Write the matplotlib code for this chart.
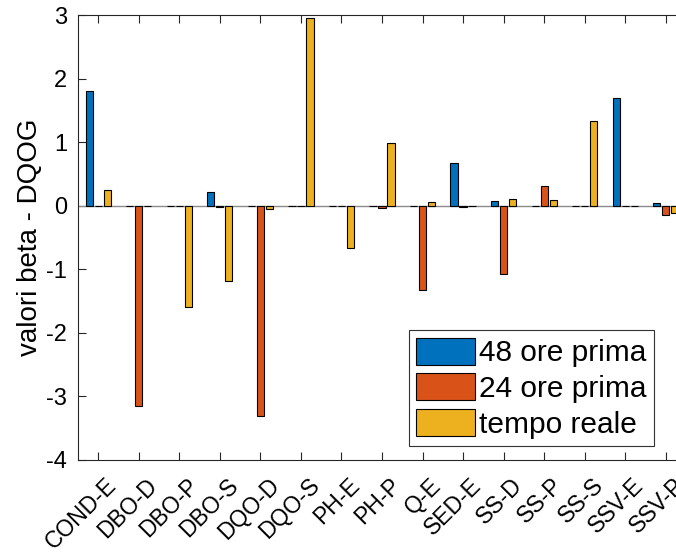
import matplotlib
matplotlib.use("Agg")
import matplotlib.pyplot as plt
import matplotlib.transforms as mtransforms
import numpy as np

plt.rcParams['font.family'] = ['Liberation Sans', 'DejaVu Sans']
plt.rcParams['axes.unicode_minus'] = False

categorie = ["COND-E", "DBO-D", "DBO-P", "DBO-S", "DQO-D", "DQO-S", "PH-E", "PH-P",
             "Q-E", "SED-E", "SS-D", "SS-P", "SS-S", "SSV-E", "SSV-P"]
ore48 = [1.81, 0.0, 0.0, 0.21, 0.0, 0.0, 0.0, 0.0, 0.0, 0.67, 0.08, 0.0, 0.0, 1.69, 0.04]
ore24 = [0.0, -3.15, 0.0, -0.02, -3.30, 0.0, 0.0, -0.04, -1.33, -0.02, -1.07, 0.31, 0.0, 0.0, -0.15]
tempo_reale = [0.24, 0.0, -1.60, -1.19, -0.05, 2.96, -0.66, 0.98, 0.06, 0.0, 0.10, 0.09, 1.34, 0.0, -0.11]
etichette = ["48 ore prima", "24 ore prima", "tempo reale"]

colori = ["#0072BD", "#D95319", "#EDB120"]

fig = plt.figure(figsize=(6.76, 5.52), dpi=100)
# axes right edge goes past the image, like the original
ax = fig.add_axes([78/676, 1 - 460/552, 608/676, 445/552])

x = np.arange(1, len(categorie) + 1)
off = 0.222
w = 0.178
serie = [ore48, ore24, tempo_reale]
for k in range(3):
    ax.bar(x + (k - 1) * off, serie[k], width=w, color=colori[k],
           edgecolor="black", linewidth=0.8, label=etichette[k], zorder=3)

ax.axhline(0, color="#8c8c8c", linewidth=1, zorder=2)

ax.set_xlim(0.5, 15.5)
ax.set_ylim(-4, 3)
ax.set_xticks(x)
ax.set_xticklabels(categorie, rotation=45, ha="right", va="top", rotation_mode="anchor")
ax.set_yticks(np.arange(-4, 4))
ax.set_ylabel("valori beta - DQOG", fontsize=20, labelpad=2)

ax.tick_params(direction="in", length=6, width=0.8, color="#262626",
               labelsize=17, top=True, right=True)
ax.tick_params(axis="x", labelsize=16.5, pad=10)
ax.tick_params(axis="y", pad=8)
# shift the rotated labels a bit to the right, as matlab does
sposta = mtransforms.ScaledTranslation(7/100, 0, fig.dpi_scale_trans)
for t in ax.get_xticklabels():
    t.set_transform(t.get_transform() + sposta)
for s in ax.spines.values():
    s.set_color("#262626")
    s.set_linewidth(0.8)

leg = ax.legend(loc="lower right", bbox_to_anchor=(654/676, 1 - 446/552),
                bbox_transform=fig.transFigure, fontsize=21.5, fancybox=False,
                framealpha=1, edgecolor="#333333", handlelength=1.95,
                handleheight=1.0, handletextpad=0.15, labelspacing=0.2,
                borderpad=0.25, borderaxespad=0)
leg.get_frame().set_linewidth(0.8)

fig.savefig("out.png", dpi=100)
